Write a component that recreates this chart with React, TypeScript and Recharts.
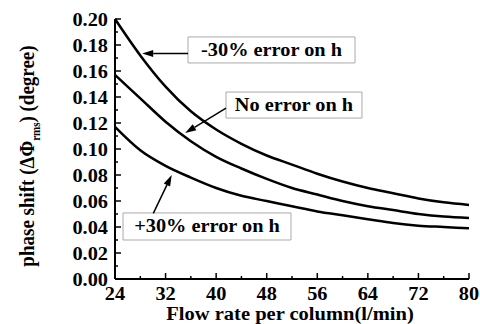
import { LineChart, Line, XAxis, YAxis, ReferenceArea, ReferenceLine } from 'recharts';

// flow rate per column (l/min)
const flowRates = [24, 28, 32, 36, 40, 44, 48, 52, 56, 60, 64, 68, 72, 76, 80];
// phase shift (degree) for each h error case
const minus30 = [0.2, 0.172, 0.148, 0.129, 0.115, 0.104, 0.095, 0.088, 0.081, 0.075, 0.07, 0.066, 0.062, 0.059, 0.057];
const noError = [0.157, 0.139, 0.121, 0.106, 0.094, 0.085, 0.077, 0.07, 0.065, 0.06, 0.056, 0.053, 0.05, 0.048, 0.047];
const plus30 = [0.117, 0.099, 0.087, 0.078, 0.07, 0.064, 0.06, 0.056, 0.052, 0.049, 0.046, 0.043, 0.041, 0.04, 0.039];

const xTicks = [24, 28, 32, 36, 40, 44, 48, 52, 56, 60, 64, 68, 72, 76, 80];
const yTicks = [0, 0.01, 0.02, 0.03, 0.04, 0.05, 0.06, 0.07, 0.08, 0.09, 0.1, 0.11, 0.12, 0.13, 0.14, 0.15, 0.16, 0.17, 0.18, 0.19, 0.2];

const data = flowRates.map((flow, i) => ({
  flow,
  minus30: minus30[i],
  noError: noError[i],
  plus30: plus30[i],
}));

// annotation boxes and arrows, in data units
const notes = [
  { text: '-30% error on h', box: [35.55, 61.97, 0.1662, 0.1862], arrow: [35.55, 0.1735, 28.3, 0.1735] },
  { text: 'No error on h', box: [41.56, 63.07, 0.1238, 0.1438], arrow: [41.56, 0.1315, 35.1, 0.1123] },
  { text: '+30% error on h', box: [25.27, 51.84, 0.03, 0.0508], arrow: [30.06, 0.0505, 32.97, 0.08] },
];

const FONT = 'Liberation Serif';
const SX = 1.13;

const isMajorX = (v: number) => v % 8 === 0;
const isMajorY = (v: number) => Math.round(v * 100) % 2 === 0;

function BottomTick({ x, y, payload }: any) {
  const major = isMajorX(payload.value);
  return (
    <g>
      <line x1={x} x2={x} y1={y} y2={y - (major ? 6 : 3)} stroke="#000" strokeWidth={1.5} />
      {major && (
        <text
          transform={`translate(${x},${y + 21}) scale(${SX},1)`}
          textAnchor="middle"
          fontFamily={FONT}
          fontWeight="bold"
          fontSize={18}
          fill="#000"
        >
          {payload.value}
        </text>
      )}
    </g>
  );
}

function TopTick({ x, y, payload }: any) {
  const major = isMajorX(payload.value);
  return <line x1={x} x2={x} y1={y} y2={y + (major ? 6 : 3)} stroke="#000" strokeWidth={1.5} />;
}

function LeftTick({ x, y, payload }: any) {
  const major = isMajorY(payload.value);
  return (
    <g>
      <line x1={x} x2={x + (major ? 6 : 3)} y1={y} y2={y} stroke="#000" strokeWidth={1.5} />
      {major && (
        <text
          transform={`translate(${x - 7},${y + 7}) scale(${SX},1)`}
          textAnchor="end"
          fontFamily={FONT}
          fontWeight="bold"
          fontSize={18}
          fill="#000"
        >
          {payload.value.toFixed(2)}
        </text>
      )}
    </g>
  );
}

function RightTick({ x, y, payload }: any) {
  const major = isMajorY(payload.value);
  return <line x1={x} x2={x - (major ? 6 : 3)} y1={y} y2={y} stroke="#000" strokeWidth={1.5} />;
}

function YTitle({ viewBox }: any) {
  const cx = viewBox.x + 24;
  const cy = viewBox.y + viewBox.height / 2 + 7;
  return (
    <text
      transform={`translate(${cx},${cy}) rotate(-90) scale(1,${SX})`}
      textAnchor="middle"
      fontFamily={FONT}
      fontWeight="bold"
      fontSize={19}
      fill="#000"
    >
      phase shift (ΔΦ
      <tspan fontSize={11} dy={5}>rms</tspan>
      <tspan dy={-5}>) (degree)</tspan>
    </text>
  );
}

function XTitle({ viewBox }: any) {
  return (
    <text
      transform={`translate(${viewBox.x + viewBox.width / 2 - 2},${viewBox.y + 41}) scale(1.08,1)`}
      textAnchor="middle"
      fontFamily={FONT}
      fontWeight="bold"
      fontSize={19}
      fill="#000"
    >
      Flow rate per column(l/min)
    </text>
  );
}

function BoxLabel({ viewBox, value }: any) {
  return (
    <text
      transform={`translate(${viewBox.x + viewBox.width / 2},${viewBox.y + viewBox.height / 2 + 6}) scale(${SX},1)`}
      textAnchor="middle"
      fontFamily={FONT}
      fontWeight="bold"
      fontSize={18}
      fill="#000"
    >
      {value}
    </text>
  );
}

function Arrow({ x1, y1, x2, y2 }: any) {
  const ang = Math.atan2(y2 - y1, x2 - x1);
  const len = 11;
  const half = 3.5;
  const bx = x2 - len * Math.cos(ang);
  const by = y2 - len * Math.sin(ang);
  const px = -Math.sin(ang) * half;
  const py = Math.cos(ang) * half;
  return (
    <g>
      <line x1={x1} y1={y1} x2={bx} y2={by} stroke="#000" strokeWidth={1.5} />
      <polygon points={`${x2},${y2} ${bx + px},${by + py} ${bx - px},${by - py}`} fill="#000" />
    </g>
  );
}

export default function App() {
  return (
    <div style={{ position: 'absolute', left: 0, top: 0, background: '#fff' }}>
      <LineChart width={480} height={324} data={data} margin={{ top: 19, right: 11, left: 10, bottom: 0 }}>
        <XAxis
          xAxisId="b"
          dataKey="flow"
          type="number"
          domain={[24, 80]}
          ticks={xTicks}
          interval={0}
          height={45}
          tickSize={0}
          tickMargin={0}
          tickLine={false}
          tick={<BottomTick />}
          axisLine={{ stroke: '#000', strokeWidth: 2 }}
          label={{ content: <XTitle /> }}
        />
        <XAxis
          xAxisId="t"
          orientation="top"
          dataKey="flow"
          type="number"
          domain={[24, 80]}
          ticks={xTicks}
          interval={0}
          height={0}
          tickSize={0}
          tickMargin={0}
          tickLine={false}
          tick={<TopTick />}
          axisLine={{ stroke: '#000', strokeWidth: 2 }}
        />
        <YAxis
          yAxisId="l"
          type="number"
          domain={[0, 0.2]}
          ticks={yTicks}
          interval={0}
          width={105}
          tickSize={0}
          tickMargin={0}
          tickLine={false}
          tick={<LeftTick />}
          axisLine={{ stroke: '#000', strokeWidth: 2 }}
          label={{ content: <YTitle /> }}
        />
        <YAxis
          yAxisId="r"
          orientation="right"
          type="number"
          domain={[0, 0.2]}
          ticks={yTicks}
          interval={0}
          width={0}
          tickSize={0}
          tickMargin={0}
          tickLine={false}
          tick={<RightTick />}
          axisLine={{ stroke: '#000', strokeWidth: 2 }}
        />

        <Line xAxisId="b" yAxisId="l" type="monotone" dataKey="minus30" stroke="#000" strokeWidth={2.5} dot={false} isAnimationActive={false} />
        <Line xAxisId="b" yAxisId="l" type="monotone" dataKey="noError" stroke="#000" strokeWidth={2.5} dot={false} isAnimationActive={false} />
        <Line xAxisId="b" yAxisId="l" type="monotone" dataKey="plus30" stroke="#000" strokeWidth={2.5} dot={false} isAnimationActive={false} />

        {notes.map((n) => (
          <ReferenceArea
            key={n.text}
            xAxisId="b"
            yAxisId="l"
            x1={n.box[0]}
            x2={n.box[1]}
            y1={n.box[2]}
            y2={n.box[3]}
            fill="#fff"
            fillOpacity={1}
            stroke="#aaa"
            strokeWidth={1}
            ifOverflow="visible"
            label={{ value: n.text, content: <BoxLabel /> }}
          />
        ))}
        {notes.map((n) => (
          <ReferenceLine
            key={n.text + '-arrow'}
            xAxisId="b"
            yAxisId="l"
            segment={[
              { x: n.arrow[0], y: n.arrow[1] },
              { x: n.arrow[2], y: n.arrow[3] },
            ]}
            ifOverflow="visible"
            shape={<Arrow />}
          />
        ))}
      </LineChart>
    </div>
  );
}
